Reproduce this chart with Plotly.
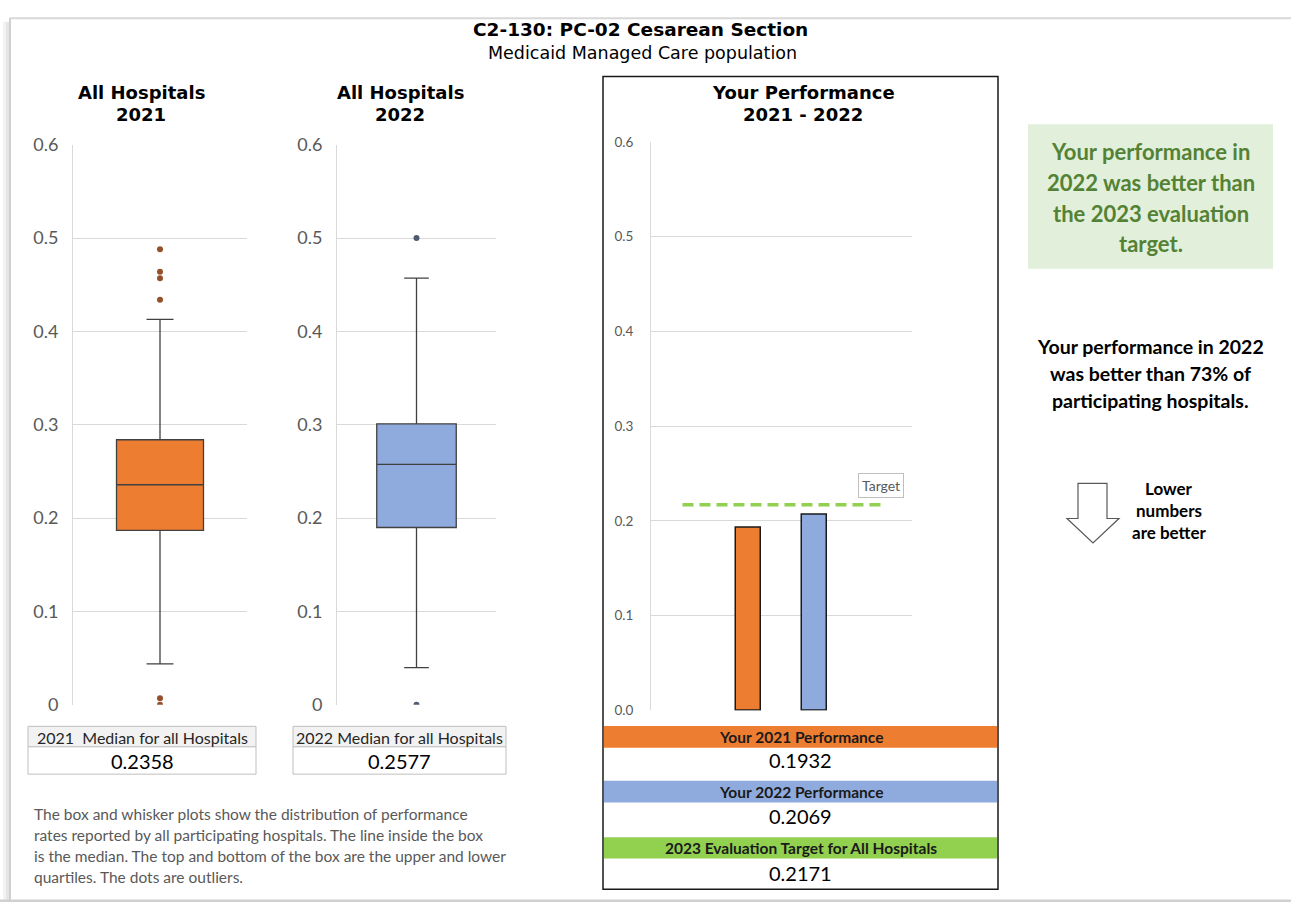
import plotly.graph_objects as go

W, H = 1291, 912

# ---------------- data ----------------
years = ["2021", "2022"]
box_q1 = [0.187, 0.190]
box_median = [0.2358, 0.2577]
box_q3 = [0.284, 0.301]
box_lower = [0.044, 0.040]
box_upper = [0.413, 0.457]
outliers_2021 = [0.488, 0.464, 0.457, 0.434, 0.007, 0.0]
outliers_2022 = [0.500, 0.0]
performance = [0.1932, 0.2069]
perf_positions = [1, 2]
target = 0.2171
target_span = [0, 3]
y_ticks = [0, 0.1, 0.2, 0.3, 0.4, 0.5, 0.6]

box_fill = ["#ED7D31", "#8FAADC"]
outlier_color = ["#94502A", "#505A70"]
band_colors = ["#ED7D31", "#8FAADC", "#92D050"]


def X(p):
    return p / W


def Y(p):
    return 1 - p / H


fig = go.Figure()

# ---------------- box plots ----------------
for i, (xa, ya) in enumerate([("x", "y"), ("x2", "y2")]):
    fig.add_trace(go.Box(
        x=[0], q1=[box_q1[i]], median=[box_median[i]], q3=[box_q3[i]],
        lowerfence=[box_lower[i]], upperfence=[box_upper[i]],
        width=1.0, whiskerwidth=0.31, fillcolor=box_fill[i],
        line=dict(color="#404040", width=1.3), boxpoints=False,
        xaxis=xa, yaxis=ya, hoverinfo="skip", name=years[i]))

for i, (pts, xa, ya) in enumerate([(outliers_2021, "x", "y"), (outliers_2022, "x2", "y2")]):
    fig.add_trace(go.Scatter(
        x=[0] * len(pts), y=pts, mode="markers",
        marker=dict(size=6, color=outlier_color[i]),
        xaxis=xa, yaxis=ya, hoverinfo="skip"))

# ---------------- performance bars ----------------
fig.add_trace(go.Bar(
    x=perf_positions, y=performance, width=0.38,
    marker=dict(color=box_fill, line=dict(color="#1A1A1A", width=1.5)),
    xaxis="x3", yaxis="y3", hoverinfo="skip"))
fig.add_trace(go.Scatter(
    x=target_span, y=[target, target], mode="lines",
    line=dict(color="#92D050", width=3.5, dash="11px,6px"),
    xaxis="x3", yaxis="y3", hoverinfo="skip"))

# ---------------- axes ----------------
ycommon = dict(range=[0, 0.6], tickvals=y_ticks, gridcolor="#D9D9D9", gridwidth=1,
               showline=True, linecolor="#D9D9D9", linewidth=1, zeroline=False,
               ticks="", fixedrange=True)
xcommon = dict(showgrid=False, zeroline=False, showticklabels=False, showline=False,
               ticks="", fixedrange=True)

fig.update_layout(
    xaxis=dict(domain=[X(73), X(247)], range=[-1, 1], **xcommon),
    yaxis=dict(domain=[Y(710), Y(136)], anchor="x",
               tickfont=dict(family="Lato", size=18, color="#595959"),
               ticklabelstandoff=10, **ycommon),
    xaxis2=dict(domain=[X(337), X(496)], range=[-1, 1], anchor="y2", **xcommon),
    yaxis2=dict(domain=[Y(710), Y(136)], anchor="x2",
                tickfont=dict(family="Lato", size=18, color="#595959"),
                ticklabelstandoff=10, **ycommon),
    xaxis3=dict(domain=[X(651), X(912)], range=[-0.477, 3.477], anchor="y3", **xcommon),
    yaxis3=dict(domain=[Y(715.7), Y(133)], anchor="x3", tickformat=".1f",
                tickfont=dict(family="Lato", size=13.5, color="#595959"),
                ticklabelstandoff=14, **ycommon),
)

# ---------------- shapes ----------------
shapes = []


def rect(x0, y0, x1, y1, fill="rgba(0,0,0,0)", line=None, lw=0, layer="below"):
    shapes.append(dict(type="rect", xref="paper", yref="paper",
                       x0=X(x0), x1=X(x1), y0=Y(y1), y1=Y(y0),
                       fillcolor=fill, line=dict(color=line or "rgba(0,0,0,0)", width=lw),
                       layer=layer))


# outer frame + shadow
rect(3, 10, 9, 912, fill="rgba(0,0,0,0.05)", layer="below")
rect(6, 10, 9, 912, fill="rgba(0,0,0,0.05)", layer="below")
shapes.append(dict(type="line", xref="paper", yref="paper", x0=X(10), x1=X(10),
                   y0=Y(6), y1=0, line=dict(color="#D0D0D0", width=2)))
shapes.append(dict(type="line", xref="paper", yref="paper", x0=X(10), x1=1,
                   y0=Y(6.5), y1=Y(6.5), line=dict(color="#D8D8D8", width=2)))
rect(0, 909.5, 1291, 912, fill="#D0D0D0")

# median tables
for (x0, x1) in [(28, 256), (293, 506)]:
    rect(x0, 732, x1, 753, fill="#F2F2F2", line="#BFBFBF", lw=1)
    rect(x0, 753, x1, 781, fill="#FFFFFF", line="#BFBFBF", lw=1)

# panel 3 frame and bands
rect(603, 66, 998, 899, line="#1A1A1A", lw=1.5)
rect(604, 731.7, 997, 754, fill=band_colors[0])
rect(604, 787.7, 997, 810, fill=band_colors[1])
rect(604, 845.7, 997, 867.3, fill=band_colors[2])

# green message box
rect(1028, 115, 1273, 263, fill="#E2EFDA")

# down arrow
pts = [(1078, 483), (1107, 483), (1107, 519), (1119, 519), (1093, 544), (1067, 519), (1078, 519)]
path = "M " + " L ".join(f"{X(a):.5f},{Y(b):.5f}" for a, b in pts) + " Z"
shapes.append(dict(type="path", xref="paper", yref="paper", path=path,
                   fillcolor="white", line=dict(color="#595959", width=1.2)))

fig.update_layout(shapes=shapes)

# ---------------- text ----------------
anns = []


def ann(text, x, y, size, color="#000000", family="Lato", xanchor="center"):
    anns.append(dict(text=text, x=X(x), y=Y(y), xref="paper", yref="paper",
                     xanchor=xanchor, yanchor="middle", showarrow=False,
                     font=dict(family=family, size=size, color=color)))


ann("<b>C2-130: PC-02 Cesarean Section</b>", 640, 18, 18.5, "#000", "DejaVu Sans")
ann("Medicaid Managed Care population", 642, 42, 17.5, "#000", "DejaVu Sans")

for cx, l1, l2 in [(141, "All Hospitals", "2021"), (400, "All Hospitals", "2022"),
                   (803, "Your Performance", "2021 - 2022")]:
    ann(f"<b>{l1}</b>", cx, 83, 18, "#000", "DejaVu Sans")
    ann(f"<b>{l2}</b>", cx, 105, 18, "#000", "DejaVu Sans")

# median tables text
ann(f"{years[0]}\u00a0 Median for all Hospitals", 142, 743, 16, "#262626")
ann(f"{box_median[0]:.4f}", 142, 767.5, 20, "#000")
ann(f"{years[1]} Median for all Hospitals", 399.5, 743, 16, "#262626")
ann(f"{box_median[1]:.4f}", 399.5, 767.5, 20, "#000")

# paragraph
para = ["The box and whisker plots show the distribution of performance",
        "rates reported by all participating hospitals. The line inside the box",
        "is the median. The top and bottom of the box are the upper and lower",
        "quartiles. The dots are outliers."]
for k, line in enumerate(para):
    ann(line, 32, 822 + k * 21.3, 15.5, "#595959", xanchor="left")

# panel 3 bands
ann(f"<b>Your {years[0]} Performance</b>", 800.5, 743, 15.5, "#1A1A1A")
ann(f"{performance[0]:.4f}", 800.5, 767, 20, "#000")
ann(f"<b>Your {years[1]} Performance</b>", 800.5, 799, 15.5, "#1A1A1A")
ann(f"{performance[1]:.4f}", 800.5, 823.5, 20, "#000")
ann("<b>2023 Evaluation Target for All Hospitals</b>", 800.5, 856.5, 15.5, "#1A1A1A")
ann(f"{target:.4f}", 800.5, 882, 20, "#000")

# target label
anns.append(dict(text="Target", x=3, y=target, xref="x3", yref="y3", yshift=19,
                 xanchor="center", yanchor="middle", showarrow=False,
                 bordercolor="#BFBFBF", borderwidth=1, borderpad=3, bgcolor="white",
                 font=dict(family="Lato", size=14, color="#595959")))

# right-hand messages
for k, line in enumerate(["Your performance in", "2022 was better than",
                          "the 2023 evaluation", "target."]):
    ann(f"<b>{line}</b>", 1150.5, 143 + k * 31.5, 22, "#548235")
for k, line in enumerate(["Your performance in 2022", "was better than 73% of",
                          "participating hospitals."]):
    ann(f"<b>{line}</b>", 1150.5, 343 + k * 27.5, 19.5, "#000")
for k, line in enumerate(["Lower", "numbers", "are better"]):
    ann(f"<b>{line}</b>", 1169, 488 + k * 22.5, 17, "#000")

fig.update_layout(
    annotations=anns, width=W, height=H, margin=dict(l=0, r=0, t=0, b=0),
    paper_bgcolor="white", plot_bgcolor="white", showlegend=False,
    bargap=0,
)

fig.write_html("out.html", config={"displayModeBar": False})
